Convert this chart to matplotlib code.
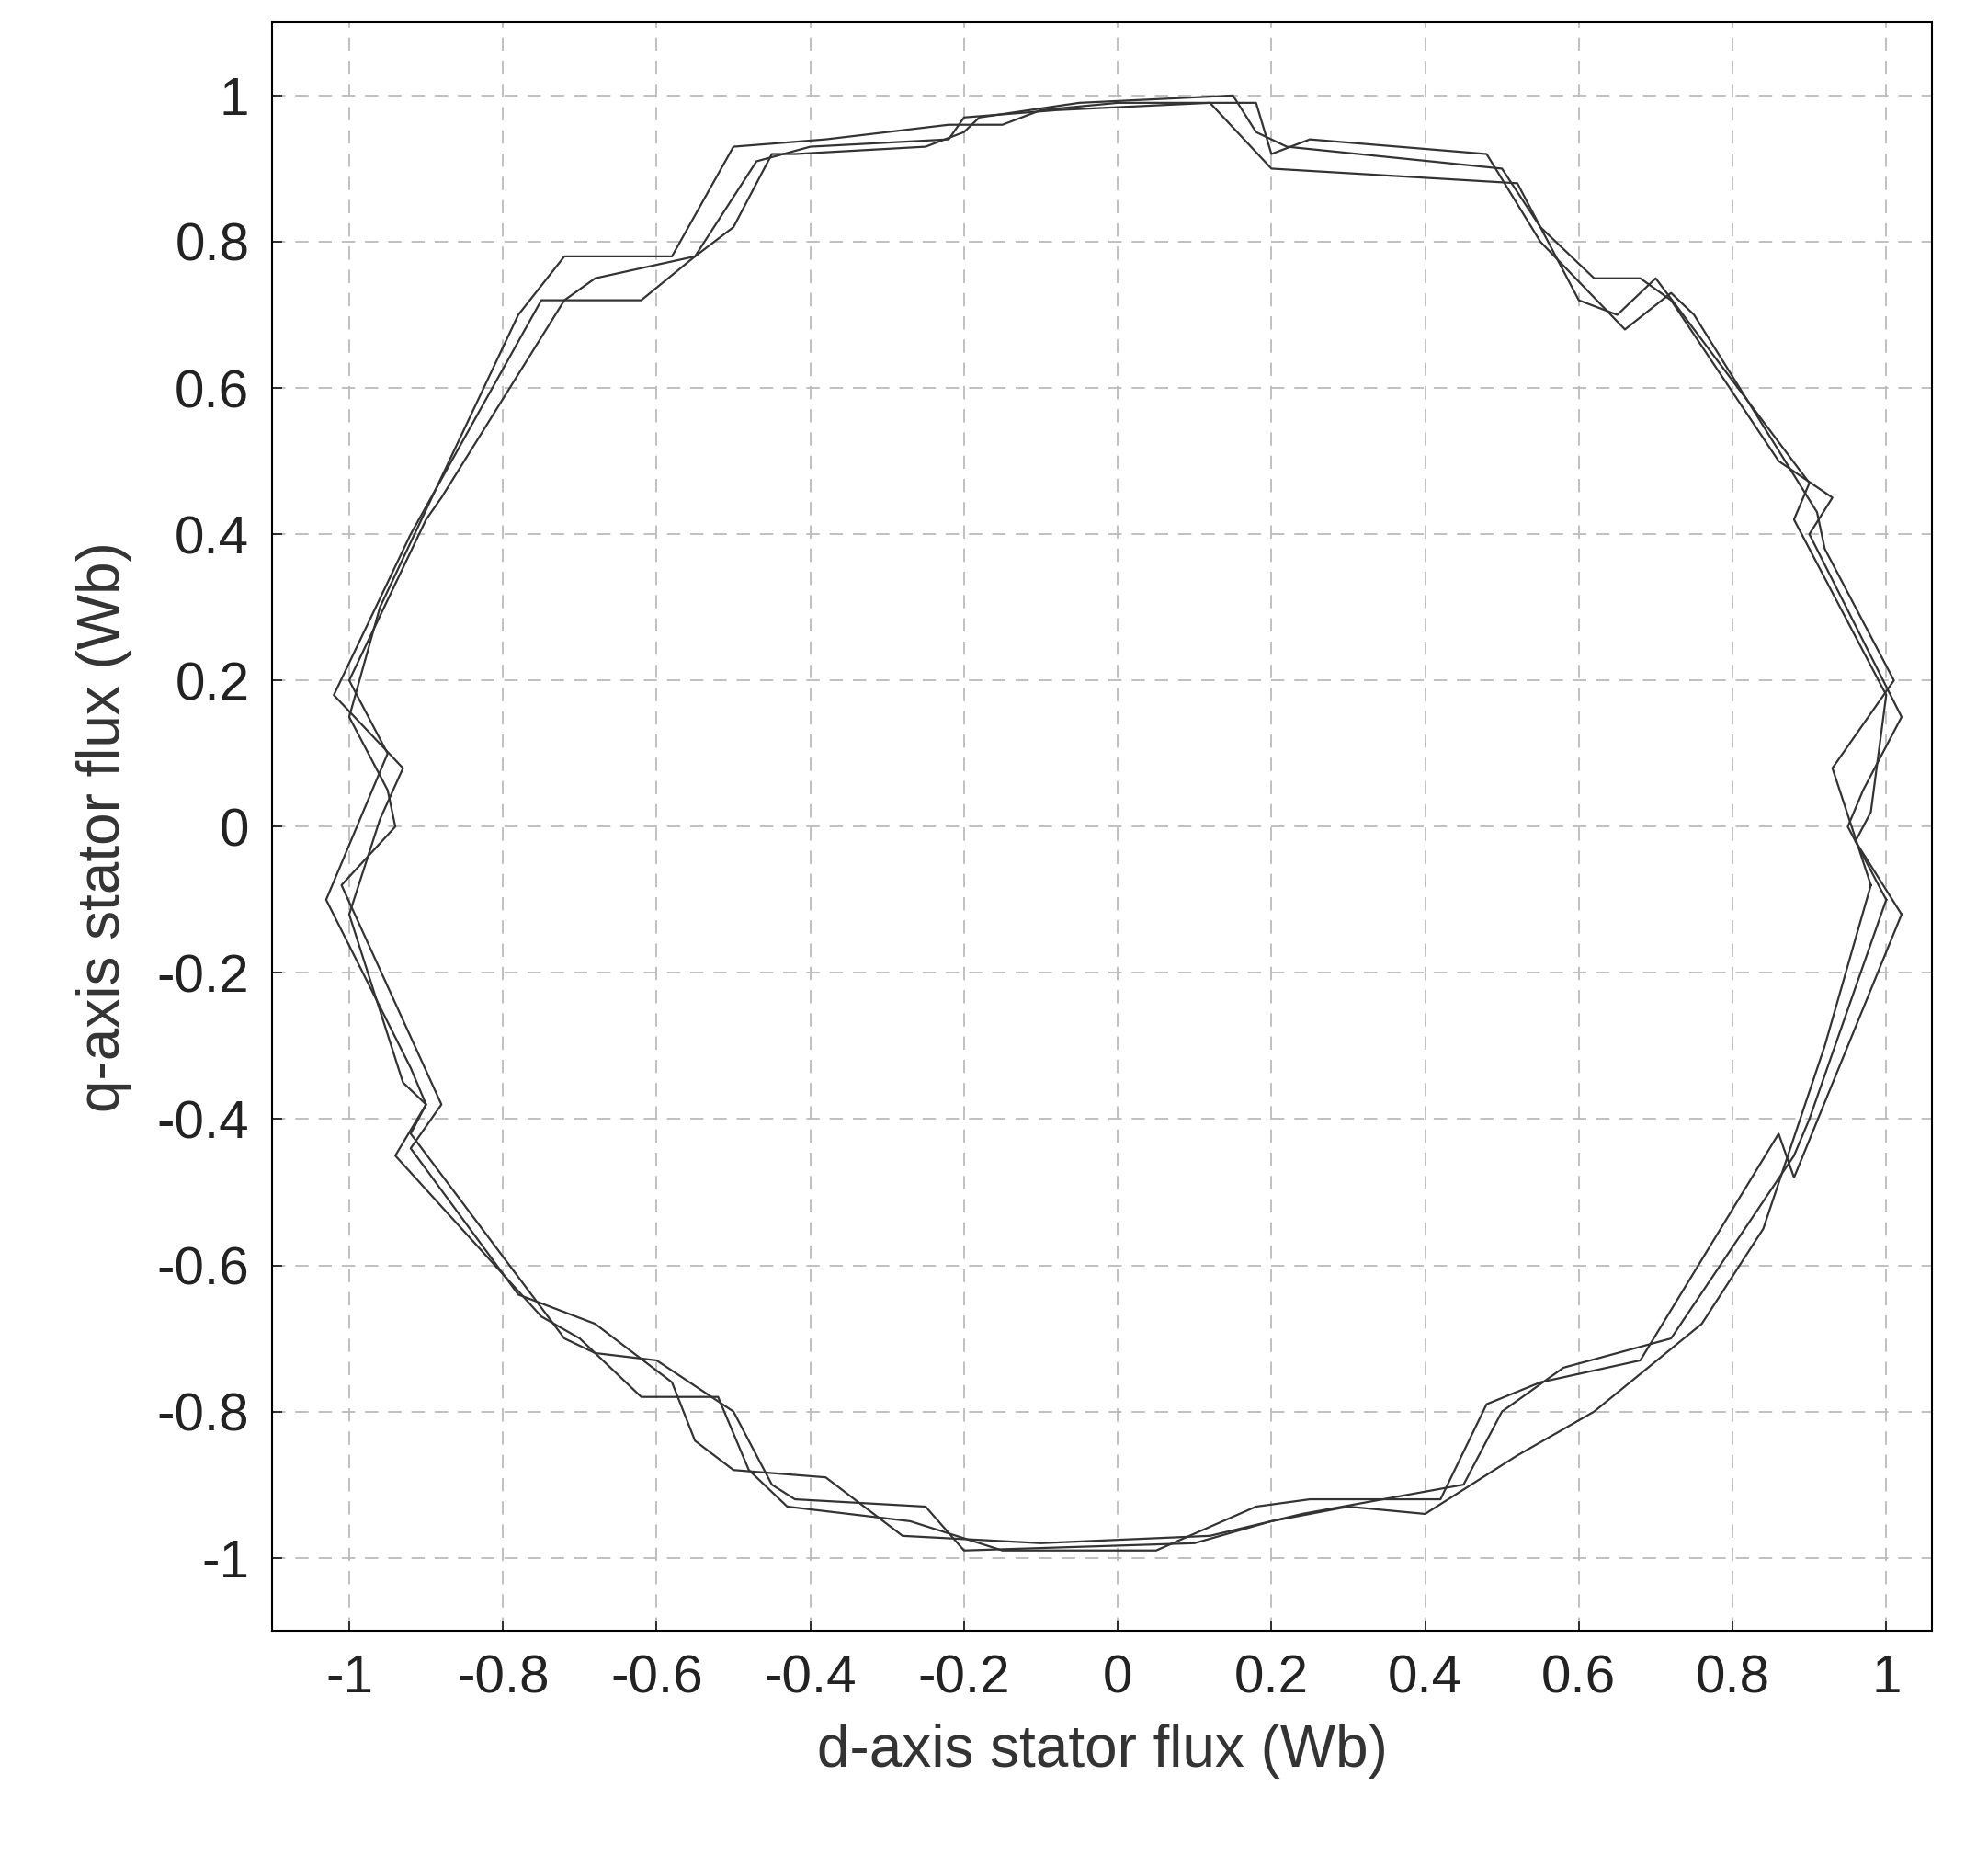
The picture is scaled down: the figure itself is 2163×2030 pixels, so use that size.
import matplotlib
matplotlib.use("Agg")
import matplotlib.pyplot as plt

# Three trajectory loops (d, q)
d1 = [1.00,0.95,0.97,1.02,0.90,0.93,0.86,0.72,0.68,0.62,0.55,0.50,0.22,0.18,0.15,-0.05,-0.18,-0.20,-0.25,-0.42,-0.45,-0.50,-0.55,-0.68,-0.72,-0.88,-0.90,-1.00,-0.95,-0.97,-1.03,-0.92,-0.90,-0.92,-0.72,-0.68,-0.60,-0.50,-0.45,-0.42,-0.25,-0.20,0.10,0.20,0.24,0.45,0.50,0.58,0.72,0.88,0.90,1.00]
q1 = [-0.10,0.00,0.05,0.15,0.40,0.45,0.50,0.72,0.75,0.75,0.82,0.90,0.93,0.95,1.00,0.99,0.97,0.95,0.93,0.92,0.92,0.82,0.78,0.75,0.72,0.45,0.42,0.20,0.10,0.05,-0.10,-0.33,-0.38,-0.42,-0.70,-0.72,-0.73,-0.80,-0.90,-0.92,-0.93,-0.99,-0.98,-0.95,-0.94,-0.90,-0.80,-0.74,-0.70,-0.45,-0.40,-0.10]

d2 = [1.02,0.96,0.98,1.00,0.88,0.90,0.70,0.65,0.60,0.52,0.20,0.12,-0.08,-0.20,-0.22,-0.40,-0.47,-0.55,-0.62,-0.75,-0.92,-1.02,-0.93,-0.96,-1.00,-0.93,-0.90,-0.94,-0.75,-0.70,-0.62,-0.52,-0.48,-0.43,-0.27,-0.15,0.05,0.18,0.25,0.42,0.48,0.55,0.68,0.86,0.88,1.02]
q2 = [-0.12,-0.02,0.02,0.18,0.42,0.47,0.75,0.70,0.72,0.88,0.90,0.99,0.98,0.97,0.94,0.93,0.91,0.78,0.72,0.72,0.40,0.18,0.08,0.01,-0.12,-0.35,-0.38,-0.45,-0.67,-0.70,-0.78,-0.78,-0.88,-0.93,-0.95,-0.99,-0.99,-0.93,-0.92,-0.92,-0.79,-0.76,-0.73,-0.42,-0.48,-0.12]

d3 = [0.98,0.93,1.01,0.92,0.91,0.75,0.72,0.66,0.55,0.48,0.25,0.20,0.18,0.00,-0.10,-0.15,-0.22,-0.38,-0.50,-0.58,-0.72,-0.78,-0.96,-1.00,-0.95,-0.94,-1.01,-0.88,-0.92,-0.78,-0.68,-0.58,-0.55,-0.50,-0.38,-0.28,-0.10,0.12,0.20,0.30,0.40,0.52,0.62,0.76,0.84,0.92,0.98]
q3 = [-0.08,0.08,0.20,0.38,0.43,0.70,0.73,0.68,0.80,0.92,0.94,0.92,0.99,0.99,0.98,0.96,0.96,0.94,0.93,0.78,0.78,0.70,0.30,0.15,0.05,0.00,-0.08,-0.38,-0.44,-0.64,-0.68,-0.76,-0.84,-0.88,-0.89,-0.97,-0.98,-0.97,-0.95,-0.93,-0.94,-0.86,-0.80,-0.68,-0.55,-0.30,-0.08]

xticks = [-1,-0.8,-0.6,-0.4,-0.2,0,0.2,0.4,0.6,0.8,1]
yticks = [-1,-0.8,-0.6,-0.4,-0.2,0,0.2,0.4,0.6,0.8,1]

plt.rcParams['font.family'] = ['Liberation Sans', 'DejaVu Sans']
fig = plt.figure(figsize=(21.63, 20.30), dpi=100)
ax = fig.add_axes([0.137, 0.126, 0.835, 0.862])
for d, q in [(d1, q1), (d2, q2), (d3, q3)]:
    ax.plot(d, q, color='#333333', lw=1.6)
ax.set_xlim(-1.1, 1.06)
ax.set_ylim(-1.1, 1.1)
ax.set_xticks(xticks)
ax.set_yticks(yticks)
ax.set_xticklabels([f"{t:g}" for t in xticks])
ax.set_yticklabels([f"{t:g}" for t in yticks])
ax.grid(True, linestyle=(0, (8, 6)), color='#bbbbbb', lw=1.3)
ax.tick_params(labelsize=42, length=8, width=1.3, direction='in', pad=18, colors='#222222')
for s in ax.spines.values():
    s.set_linewidth(1.5)
ax.set_xlabel('d-axis stator flux (Wb)', fontsize=46, color='#333333', labelpad=16)
ax.set_ylabel('q-axis stator flux (Wb)', fontsize=46, color='#333333', labelpad=20)
fig.savefig('out.png', dpi=100)
